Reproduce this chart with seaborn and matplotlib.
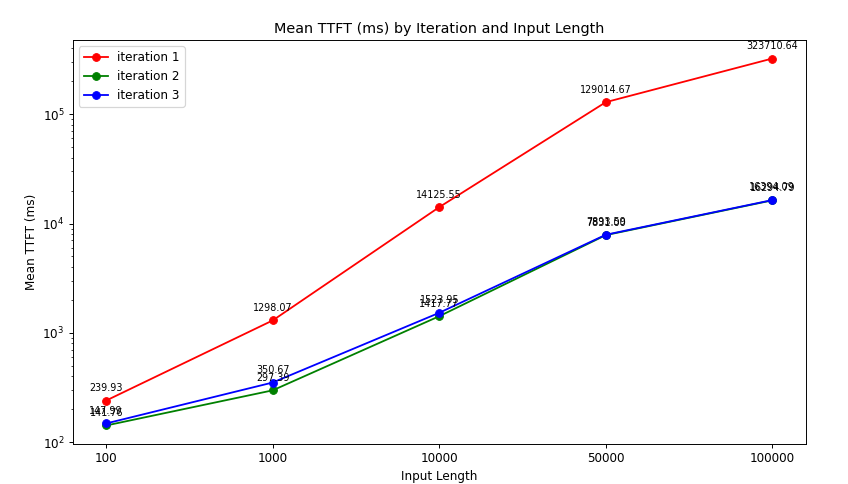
import matplotlib
matplotlib.use("Agg")
import matplotlib.pyplot as plt
import seaborn as sns
import pandas as pd

# data
input_lengths = ["100", "1000", "10000", "50000", "100000"]
iter1 = [239.93, 1298.07, 14125.55, 129014.67, 323710.64]
iter2 = [141.76, 297.39, 1417.77, 7831.00, 16294.79]
iter3 = [147.99, 350.67, 1523.95, 7893.59, 16394.09]

series = {"iteration 1": iter1, "iteration 2": iter2, "iteration 3": iter3}
colors = {"iteration 1": "red", "iteration 2": "green", "iteration 3": "blue"}

rows = []
for name, vals in series.items():
    for i, v in enumerate(vals):
        rows.append({"pos": i, "value": v, "iteration": name})
df = pd.DataFrame(rows)

DPI = 86.5
fig, ax = plt.subplots(figsize=(848 / DPI, 484 / DPI), dpi=DPI)

for name in series:
    sub = df[df["iteration"] == name]
    sns.lineplot(data=sub, x="pos", y="value", marker="o", color=colors[name],
                 label=name, ax=ax, markeredgecolor=colors[name], markersize=6.5)
    for _, r in sub.iterrows():
        ax.annotate(f"{r['value']:.2f}", (r["pos"], r["value"]),
                    xytext=(0, 8), textcoords="offset points",
                    ha="center", fontsize=8)

ax.set_yscale("log")
ax.set_xticks(range(len(input_lengths)))
ax.set_xticklabels(input_lengths)
ax.set_xlabel("Input Length")
ax.set_ylabel("Mean TTFT (ms)")
ax.set_title("Mean TTFT (ms) by Iteration and Input Length")
ax.legend(loc="upper left")

fig.subplots_adjust(left=0.086, right=0.950, top=0.917, bottom=0.083)
fig.savefig("out.png", dpi=DPI)
